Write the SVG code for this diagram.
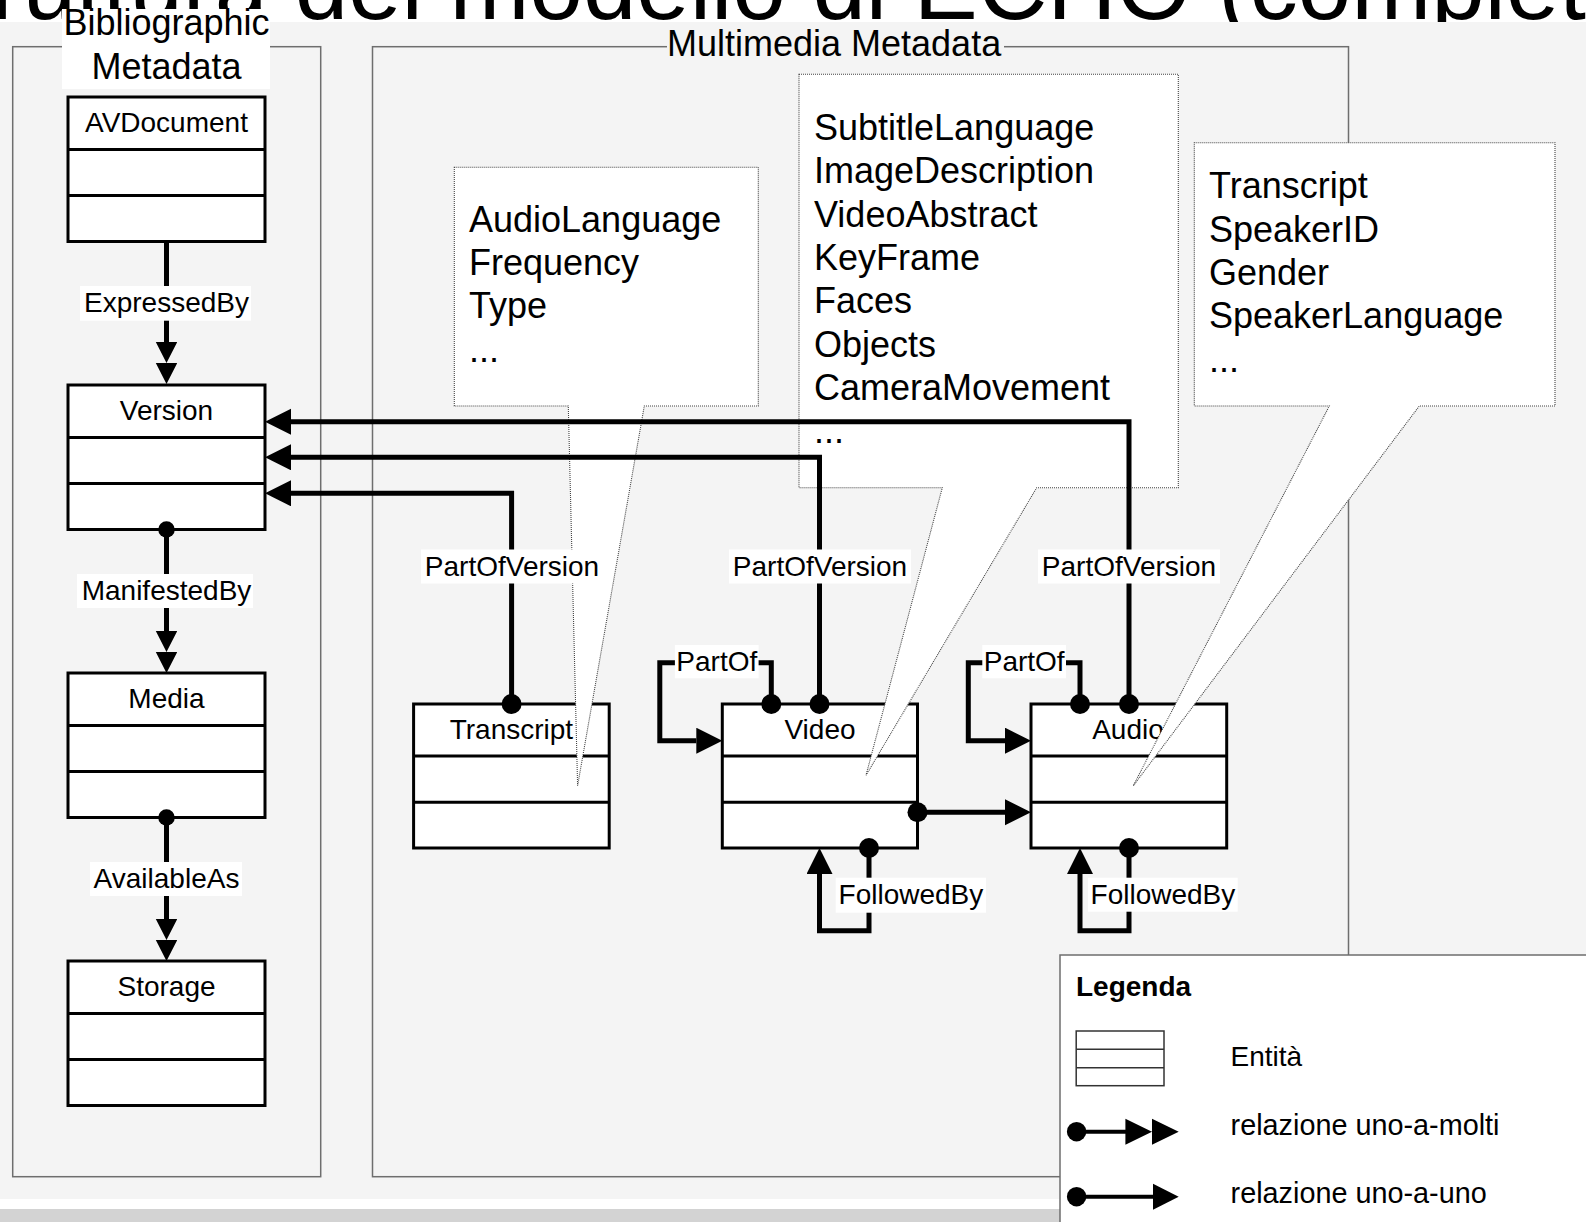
<svg xmlns="http://www.w3.org/2000/svg" width="1586" height="1222" viewBox="0 0 1586 1222">
<defs>
<style>
text{font-family:"Liberation Sans",Arial,sans-serif;fill:#000}
.title{font-size:96px}
.big{font-size:36px}
.nm{font-size:28px;text-anchor:middle}
.lb{font-size:28px;text-anchor:middle}
.lg{font-size:28px}
.panel{fill:#f4f4f4;stroke:#6e6e6e;stroke-width:1.5}
.ent rect{fill:#fff;stroke:#000;stroke-width:3}
.ent line{stroke:#000;stroke-width:3}
.call{fill:#fff;stroke:#444;stroke-width:1.1;stroke-dasharray:1 1}
.conn{fill:none;stroke:#000;stroke-width:5}
.lbg{fill:#fff}
</style>
<marker id="dot" markerUnits="userSpaceOnUse" markerWidth="22" markerHeight="22" refX="11" refY="11" orient="auto"><circle cx="11" cy="11" r="10"/></marker>
<marker id="dotS" markerUnits="userSpaceOnUse" markerWidth="18" markerHeight="18" refX="9" refY="9" orient="auto"><circle cx="9" cy="9" r="8.3"/></marker>
<marker id="arr" markerUnits="userSpaceOnUse" markerWidth="27" markerHeight="27" refX="0" refY="13" orient="auto"><path d="M0,0 L26,13 L0,26 Z"/></marker>
<marker id="arr2" markerUnits="userSpaceOnUse" markerWidth="43" markerHeight="22" refX="0" refY="10.7" orient="auto"><path d="M0,0 L21,10.7 L0,21.4 Z M21,0 L42,10.7 L21,21.4 Z"/></marker>
</defs>

<rect x="0" y="0" width="1586" height="1222" fill="#fff"/>
<text class="title" x="-100" y="19">Struttura del modello di ECHO (complet</text>
<rect x="0" y="22" width="1586" height="1177" fill="#f4f4f4"/>
<rect x="0" y="1209" width="1586" height="13" fill="#d3d3d3"/>

<g id="panel-bibliographic">
<rect class="panel" x="12.7" y="46.7" width="308" height="1130"/>
<rect class="lbg" x="62" y="9" width="208" height="80"/>
<text class="big" x="166.5" y="35" text-anchor="middle">Bibliographic</text>
<text class="big" x="166.5" y="79" text-anchor="middle">Metadata</text>
</g>
<g id="panel-multimedia">
<rect class="panel" x="372.5" y="46.7" width="976" height="1130"/>
<rect x="667" y="25" width="337" height="43" fill="#f4f4f4"/>
<text class="big" x="667" y="56">Multimedia Metadata</text>
</g>

<g id="avdocument" class="ent">
<rect x="68" y="97" width="197" height="144.5"/>
<line x1="68" y1="149.5" x2="265" y2="149.5"/><line x1="68" y1="195.5" x2="265" y2="195.5"/>
<text class="nm" x="166.5" y="132">AVDocument</text>
</g>
<g id="version" class="ent">
<rect x="68" y="385" width="197" height="144.5"/>
<line x1="68" y1="437.5" x2="265" y2="437.5"/><line x1="68" y1="483.5" x2="265" y2="483.5"/>
<text class="nm" x="166.5" y="420">Version</text>
</g>
<g id="media" class="ent">
<rect x="68" y="673" width="197" height="144.5"/>
<line x1="68" y1="725.5" x2="265" y2="725.5"/><line x1="68" y1="771.5" x2="265" y2="771.5"/>
<text class="nm" x="166.5" y="708">Media</text>
</g>
<g id="storage" class="ent">
<rect x="68" y="961" width="197" height="144.5"/>
<line x1="68" y1="1013.5" x2="265" y2="1013.5"/><line x1="68" y1="1059.5" x2="265" y2="1059.5"/>
<text class="nm" x="166.5" y="996">Storage</text>
</g>
<g id="transcript" class="ent">
<rect x="413.6" y="704" width="195.6" height="144"/>
<line x1="413.6" y1="756" x2="609.2" y2="756"/><line x1="413.6" y1="802.3" x2="609.2" y2="802.3"/>
<text class="nm" x="511.4" y="738.5">Transcript</text>
</g>
<g id="video" class="ent">
<rect x="722.3" y="704" width="195.2" height="144"/>
<line x1="722.3" y1="756" x2="917.5" y2="756"/><line x1="722.3" y1="802.3" x2="917.5" y2="802.3"/>
<text class="nm" x="820" y="738.5">Video</text>
</g>
<g id="audio" class="ent">
<rect x="1031" y="704" width="195.7" height="144"/>
<line x1="1031" y1="756" x2="1226.7" y2="756"/><line x1="1031" y1="802.3" x2="1226.7" y2="802.3"/>
<text class="nm" x="1128" y="738.5">Audio</text>
</g>

<g id="note-transcript">
<path class="call" d="M454.3,167.3 H758.3 V406 H644.3 L577.6,785.7 L568.3,406 H454.3 Z"/>
<text class="big" x="469" y="231.7">AudioLanguage</text>
<text class="big" x="469" y="275">Frequency</text>
<text class="big" x="469" y="318.3">Type</text>
<text class="big" x="469" y="361.7">...</text>
</g>
<g id="note-video">
<path class="call" d="M799,74.3 H1178.3 V487.7 H1036.7 L866,775.3 L942.3,487.7 H799 Z"/>
<text class="big" x="814" y="140">SubtitleLanguage</text>
<text class="big" x="814" y="183.3">ImageDescription</text>
<text class="big" x="814" y="226.7">VideoAbstract</text>
<text class="big" x="814" y="270">KeyFrame</text>
<text class="big" x="814" y="313.3">Faces</text>
<text class="big" x="814" y="356.7">Objects</text>
<text class="big" x="814" y="400">CameraMovement</text>
<text class="big" x="814" y="443.3">...</text>
</g>
<g id="note-audio">
<path class="call" d="M1194.3,142.7 H1555 V406 H1419.3 L1133.3,785.7 L1329.3,406 H1194.3 Z"/>
<text class="big" x="1209" y="198.3">Transcript</text>
<text class="big" x="1209" y="241.7">SpeakerID</text>
<text class="big" x="1209" y="285">Gender</text>
<text class="big" x="1209" y="328.3">SpeakerLanguage</text>
<text class="big" x="1209" y="371.7">...</text>
</g>

<g id="connectors">
<path class="conn" d="M166.5,241.5 V342" marker-end="url(#arr2)"/>
<path class="conn" d="M166.5,529.5 V631" marker-start="url(#dotS)" marker-end="url(#arr2)"/>
<path class="conn" d="M166.5,817.5 V919" marker-start="url(#dotS)" marker-end="url(#arr2)"/>
<path class="conn" d="M1129,704 V421.7 H291" marker-start="url(#dot)" marker-end="url(#arr)"/>
<path class="conn" d="M819.5,704 V457.3 H291" marker-start="url(#dot)" marker-end="url(#arr)"/>
<path class="conn" d="M511.6,704 V493.3 H291" marker-start="url(#dot)" marker-end="url(#arr)"/>
<path class="conn" d="M771.3,704 V662.7 H659.8 V740.7 H696.3" marker-start="url(#dot)" marker-end="url(#arr)"/>
<path class="conn" d="M1080,704 V662.7 H968.3 V740.7 H1005" marker-start="url(#dot)" marker-end="url(#arr)"/>
<path class="conn" d="M917.5,812.3 H1005" marker-start="url(#dot)" marker-end="url(#arr)"/>
<path class="conn" d="M869,848 V930.7 H819.5 V874" marker-start="url(#dot)" marker-end="url(#arr)"/>
<path class="conn" d="M1129,848 V930.7 H1080 V874" marker-start="url(#dot)" marker-end="url(#arr)"/>

<rect class="lbg" x="80" y="286" width="171" height="34.7"/>
<text class="lb" x="166.5" y="312.3">ExpressedBy</text>
<rect class="lbg" x="77" y="574" width="176" height="34"/>
<text class="lb" x="166.5" y="600">ManifestedBy</text>
<rect class="lbg" x="90" y="862" width="152" height="34"/>
<text class="lb" x="166.5" y="888">AvailableAs</text>
<rect class="lbg" x="421" y="549.5" width="182" height="34"/>
<text class="lb" x="512" y="575.5">PartOfVersion</text>
<rect class="lbg" x="729" y="549.5" width="182" height="34"/>
<text class="lb" x="820" y="575.5">PartOfVersion</text>
<rect class="lbg" x="1038" y="549.5" width="182" height="34"/>
<text class="lb" x="1129" y="575.5">PartOfVersion</text>
<rect class="lbg" x="674.9" y="645" width="83.7" height="33.3"/>
<text class="lb" x="716.8" y="671">PartOf</text>
<rect class="lbg" x="982.3" y="645" width="83.7" height="33.3"/>
<text class="lb" x="1024.2" y="671">PartOf</text>
<rect class="lbg" x="835.7" y="877.7" width="150.3" height="35"/>
<text class="lb" x="910.9" y="904">FollowedBy</text>
<rect class="lbg" x="1088" y="877.7" width="149.7" height="34"/>
<text class="lb" x="1162.9" y="904">FollowedBy</text>
</g>

<g id="legend">
<rect x="1060" y="955" width="540" height="280" fill="#fff" stroke="#6e6e6e" stroke-width="1.5"/>
<text class="lg" x="1076" y="996" font-weight="bold">Legenda</text>
<rect x="1076.2" y="1031" width="87.8" height="54.7" fill="#fff" stroke="#333" stroke-width="1.5"/>
<line x1="1076.2" y1="1049.3" x2="1164" y2="1049.3" stroke="#333" stroke-width="1.5"/>
<line x1="1076.2" y1="1067.7" x2="1164" y2="1067.7" stroke="#333" stroke-width="1.5"/>
<text class="lg" x="1230.6" y="1065.7">Entità</text>
<circle cx="1076.6" cy="1131.7" r="9.7"/>
<line x1="1076.6" y1="1131.7" x2="1126" y2="1131.7" stroke="#000" stroke-width="4"/>
<path d="M1125.4,1118.7 L1152,1131.7 L1125.4,1144.7 Z M1152,1118.7 L1178.7,1131.7 L1152,1144.7 Z"/>
<text class="lg" x="1230.6" y="1135" font-size="28.8px" style="font-size:28.8px">relazione uno-a-molti</text>
<circle cx="1076.6" cy="1196.7" r="9.7"/>
<line x1="1076.6" y1="1196.7" x2="1154" y2="1196.7" stroke="#000" stroke-width="4"/>
<path d="M1153,1183.7 L1178.7,1196.7 L1153,1209.7 Z"/>
<text class="lg" x="1230.6" y="1203.3" style="font-size:28.8px">relazione uno-a-uno</text>
</g>
</svg>
